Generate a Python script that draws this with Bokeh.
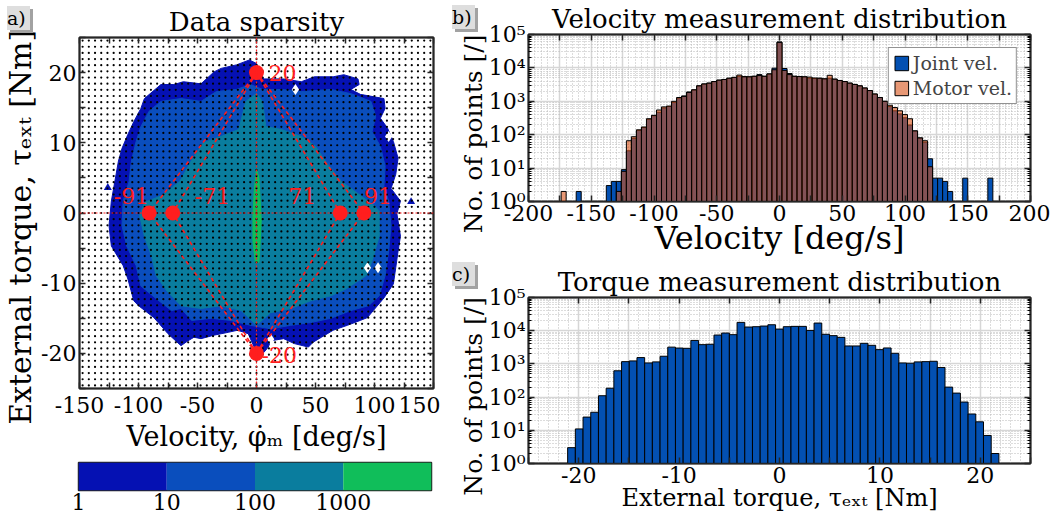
import numpy as np
from bokeh.plotting import figure
from bokeh.models import (Range1d, FixedTicker, LinearAxis, LogAxis, Span,
                          Legend, LegendItem, Div, GridBox)
from bokeh.layouts import row, column
from bokeh.embed import file_html
from bokeh.resources import INLINE
from bokeh.core.properties import value

FONT = "DejaVu Serif"
INK = "#262626"
RED = "#FF1E1E"
NB = "\u00a0"

# ---------------- data: panel a (2-D point-count contour outlines) ----------------
levels = [1, 10, 100, 1000]
level_colors = ["#0511B3", "#0A4EBD", "#0A7D9E", "#10BE5A"]

lvl1_vel = [-95, -81, -70, -62, -47, -36, -30, -17, -6, 0, 6, 23, 38, 49, 65, 74, 86, 87, 80, 88,
            108, 109, 105, 111, 116, 120, 118, 114, 122, 119, 122, 120, 118, 116, 108, 99, 94, 88, 77, 65,
            55, 48, 44, 32, 23, 12, 10, 6, 1, -2, -7, -16, -24, -36, -47, -53, -58, -64, -75, -87,
            -100, -104, -109, -113, -123, -125, -123, -119, -117, -114, -109, -104, -98]
lvl1_tau = [16.3, 18.3, 18.3, 18.7, 18.4, 20.1, 20.6, 21.1, 21.8, 21.3, 19.1, 19.1, 18.7, 19.4, 19.4,
            19.7, 19.1, 18.3, 17.6, 16.9, 16.3, 14.9, 13.5, 12.1, 10.2, 7.8, 5.5, 3.5, 1.7, -0.1,
            -3.3, -5.4, -7.8, -10.1, -12.1, -13.9, -14.9, -15.3, -16.0, -16.7, -17.7, -18.4, -19.1,
            -18.6, -17.9, -18.2, -19.1, -19.9, -19.6, -19.1, -17.2, -16.7, -17.0, -17.4, -17.9, -17.7,
            -18.2, -18.9, -17.2, -14.9, -13.2, -12.5, -9.4, -7.5, -4.7, -1.8, 1.7, 5.5, 7.4, 9.2,
            11.2, 13.0, 14.9]

lvl10_vel = [-91, -81, -64, -47, -34, -17, -5, 5, 21, 38, 63, 80, 97, 101, 98, 105, 109, 108, 112, 114,
             112, 109, 104, 95, 80, 63, 46, 29, 12, -5, -22, -38, -55, -64, -72, -85, -98, -102, -110,
             -114, -113, -108, -106, -102, -98]
lvl10_tau = [14.5, 15.9, 16.3, 15.9, 17.3, 17.6, 18.3, 17.6, 17.6, 17.3, 17.6, 17.0, 15.9, 13.8, 11.6,
             9.5, 6.7, 3.8, 1.7, -1.8, -5.4, -8.9, -11.8, -13.2, -13.9, -15.0, -15.6, -16.0, -16.5,
             -16.0, -15.3, -15.0, -15.3, -13.6, -13.9, -12.2, -10.4, -7.5, -4.7, -1.8, 1.7, 4.5, 7.4,
             10.2, 12.3]

lvl100_vel = [-99, -95, -80, -65, -55, -45, -30, -15, -9, 0, 5, 8, 21, 38, 50, 60, 72, 88, 100, 104,
              104, 98, 93, 76, 63, 46, 29, 12, 0, -13, -30, -47, -64, -76, -85, -89, -95]
lvl100_tau = [-0.4, 1.5, 2.5, 4.5, 7.5, 10.0, 10.9, 11.9, 15.9, 17.0, 15.9, 12.3, 11.9, 10.9, 9.5, 7.0,
              4.5, 2.5, 1.0, 0.3, -3.3, -6.8, -8.9, -10.8, -11.8, -12.5, -13.6, -14.2, -16.0, -13.9,
              -13.2, -13.6, -13.2, -11.1, -8.9, -6.1, -3.3]

lvl1000_vel = [0, 2, 3, 4, 3, 2, -1, -3, -3, -2]
lvl1000_tau = [6.3, 5.0, 2.0, -1.0, -4.5, -7.0, -7.0, -4.0, -0.5, 3.0]

holes_vel = [33, 112, 94, 103, 12]
holes_tau = [17.6, 10.9, -7.8, -7.8, -18.0]
islands_vel = [-126, 131]
islands_tau = [3.6, 1.6]

grid_n = 57          # histogram mesh of panel a (bins per axis)

limit_vel = [-91, -71, 71, 91]   # deg/s
limit_tau = [20, -20]            # Nm

# ---------------- data: panel b (velocity histogram) ----------------
vel_bin_first_center = -172
vel_bin_width = 4
joint_counts = [0, 0, 0, 2, 0, 0, 0, 0, 0, 3, 4, 4, 9, 33, 78, 135, 165, 290, 370, 470,
                630, 700, 930, 1250, 1450, 1900, 2200, 2900, 3300, 3500, 3900, 4300, 4500, 4900, 5200, 5600,
                5500, 5400, 5600, 6300, 5600, 6600, 9800, 60000, 9600, 6800, 5600, 5500, 5400, 4900,
                4800, 4900, 4700, 4900, 4600, 4200, 3900, 3500, 3200, 2900, 2500, 2100, 1650, 1300, 1000,
                700, 520, 420, 320, 195, 130, 80, 60, 19, 5, 5, 4, 2, 0, 0, 5, 0, 0, 0, 0, 5]
motor_counts = [2, 0, 0, 0, 0, 0, 0, 0, 0, 0, 0, 2, 8, 66, 87, 140, 170, 300, 380, 550,
                680, 720, 1000, 1300, 1400, 1850, 2200, 2900, 3300, 3500, 3900, 4300, 4500, 4900, 5200, 6100,
                5400, 5400, 5600, 5900, 5600, 6600, 8800, 58000, 8400, 6300, 5600, 5500, 5400, 5300,
                5000, 4900, 4700, 6000, 4600, 4200, 3900, 3500, 3200, 2900, 2500, 2100, 1650, 1300, 1000,
                760, 650, 520, 400, 300, 130, 80, 66, 11, 0, 0, 0, 0, 0, 0, 0, 0, 0, 0, 0, 0]

# ---------------- data: panel c (torque histogram) ----------------
tau_bin_first_edge = -21.1
tau_bin_width = 0.767
torque_counts = [3, 11, 25, 35, 110, 185, 620, 1170, 1230, 1550, 1070, 1150, 1700, 3200, 3000, 2950,
                 5100, 3800, 3900, 7400, 8500, 7600, 17800, 12900, 13200, 13800, 15100, 11200, 13200,
                 13500, 13500, 10200, 17000, 7800, 7100, 6300, 3470, 3470, 4170, 3630, 2690, 3020, 2090,
                 1070, 1050, 1150, 1170, 1200, 780, 200, 132, 71, 31, 18, 7, 2]

# tick positions
vel_map_ticks = list(range(-150, 151, 25))
tau_map_ticks = list(range(-25, 26, 5))
vel_hist_ticks = list(range(-200, 201, 25))
tau_hist_ticks = list(range(-25, 26, 5))
decades = [1, 10, 100, 1000, 10000, 100000]
decade_labels = ["10\u2070", "10\u00b9", "10\u00b2", "10\u00b3", "10\u2074", "10\u2075"]


# ---------------- helpers ----------------
def style_axis(ax, show_labels=True, label_size="28px", standoff=0, tick_standoff=3):
    ax.major_label_text_font = FONT
    ax.major_label_text_font_size = "22px" if show_labels else "0px"
    ax.major_label_text_color = "black"
    ax.major_label_standoff = tick_standoff if show_labels else 0
    ax.axis_line_color = INK
    ax.axis_line_width = 1.5
    ax.major_tick_in = 6
    ax.major_tick_out = 0
    ax.minor_tick_in = 0
    ax.minor_tick_out = 0
    ax.major_tick_line_color = INK
    ax.major_tick_line_width = 1.5
    ax.axis_label_text_font = FONT
    ax.axis_label_text_font_style = "normal"
    ax.axis_label_text_font_size = label_size
    ax.axis_label_text_color = "black"
    ax.axis_label_standoff = standoff


def every_other(ticks, step):
    return {t: (str(t) if t % step == 0 else "") for t in ticks}


def style_title(p, size="26px"):
    p.title.align = "center"
    p.title.text_font = FONT
    p.title.text_font_size = size
    p.title.text_font_style = "normal"
    p.title.text_color = "black"
    p.title.standoff = 2


def tag(text, top, left):
    html = ('<div style="font-family:\'DejaVu Serif\',serif;font-size:19px;line-height:24px;'
            'text-align:center;color:#000;">%s</div>' % text)
    return Div(text=html, width=23, height=24, margin=(top, 0, 0, left), align="start",
               styles={"background-color": "#DEDEDE", "box-shadow": "3px 3px 0 #A2A2A2",
                       "z-index": "10"})


# ---------------- panel a ----------------
pa = figure(width=440, height=458, title="Data sparsity",
            x_range=Range1d(-150, 150), y_range=Range1d(-25, 25),
            x_axis_type=None, y_axis_type=None,
            output_backend="svg", toolbar_location=None,
            min_border_left=78, min_border_right=7, min_border_top=37, min_border_bottom=70)
style_title(pa, "26px")
pa.outline_line_color = INK
pa.outline_line_width = 2

xt_a = FixedTicker(ticks=vel_map_ticks)
yt_a = FixedTicker(ticks=tau_map_ticks)
ax = LinearAxis(ticker=xt_a, major_label_overrides=every_other(vel_map_ticks, 50),
                axis_label="Velocity, \u03c6\u0307\u2098 [deg/s]")
style_axis(ax, label_size="27px", standoff=5, tick_standoff=8)
pa.add_layout(ax, "below")
ay = LinearAxis(ticker=yt_a, major_label_overrides=every_other(tau_map_ticks, 10),
                axis_label="External torque, \u03c4\u2091\u2093\u209c [Nm]" + NB * 3)
style_axis(ay, label_size="30px", standoff=0)
pa.add_layout(ay, "left")
for loc, tk in (("above", xt_a), ("right", yt_a)):
    a2 = LinearAxis(ticker=tk, major_label_overrides={t: "" for t in tk.ticks})
    style_axis(a2, show_labels=False)
    pa.add_layout(a2, loc)

for vx, vy, col in ((lvl1_vel, lvl1_tau, level_colors[0]), (lvl10_vel, lvl10_tau, level_colors[1]),
                    (lvl100_vel, lvl100_tau, level_colors[2]), (lvl1000_vel, lvl1000_tau, level_colors[3])):
    pa.patch(vx, vy, fill_color=col, line_color=col, line_width=1)
pa.scatter(holes_vel, holes_tau, marker="diamond", size=11, fill_color="white", line_color=None)
pa.scatter(islands_vel, islands_tau, marker="triangle", size=8, fill_color=level_colors[0], line_color=None)

centers_v = -150 + (np.arange(grid_n) + 0.5) * 300.0 / grid_n
centers_t = -25 + (np.arange(grid_n) + 0.5) * 50.0 / grid_n
gx, gy = np.meshgrid(centers_v, centers_t)
pa.scatter(gx.ravel(), gy.ravel(), size=2.2, color="black", line_color=None)

pa.add_layout(Span(location=0, dimension="height", line_color=RED, line_dash="2 2", line_width=1.2))
pa.add_layout(Span(location=0, dimension="width", line_color=RED, line_dash="2 2", line_width=1.2))
sx0, sy0, sx1, sy1 = [], [], [], []
for t in limit_tau:
    for v in limit_vel:
        sx0.append(0); sy0.append(t); sx1.append(v); sy1.append(0)
pa.segment(sx0, sy0, sx1, sy1, line_color=RED, line_dash="4 3", line_width=1.6)
pa.scatter(limit_vel + [0, 0], [0] * len(limit_vel) + limit_tau, size=15, color=RED, line_color=None)

outer = max(abs(v) for v in limit_vel)
left_lab = [v for v in limit_vel if (v > 0) == (abs(v) == outer)]
right_lab = [v for v in limit_vel if v not in left_lab]
pa.text(left_lab, [0] * len(left_lab), text=[str(v) for v in left_lab],
        x_offset=[0 if abs(v) == outer else 22 for v in left_lab], y_offset=-17,
        text_align="left", text_baseline="middle", text_color=RED,
        text_font=value(FONT), text_font_size="22px")
pa.text(right_lab, [0] * len(right_lab), text=[str(v) for v in right_lab],
        x_offset=[0 if abs(v) == outer else -24 for v in right_lab], y_offset=-17,
        text_align="right", text_baseline="middle", text_color=RED,
        text_font=value(FONT), text_font_size="22px")
pa.text([0, 0], limit_tau, text=[str(t) for t in limit_tau], x_offset=[12, 5], y_offset=[0, 2],
        text_align="left", text_baseline="middle", text_color=RED,
        text_font=value(FONT), text_font_size="22px")

# ---------------- colour bar ----------------
pcb = figure(width=440, height=62, x_range=Range1d(0, 4), y_range=Range1d(0, 1),
             x_axis_type=None, y_axis_type=None, output_backend="svg", toolbar_location=None,
             min_border_left=78, min_border_right=9, min_border_top=4, min_border_bottom=30)
pcb.outline_line_color = INK
pcb.outline_line_width = 1.5
lg = np.log10(levels)
pcb.quad(left=lg, right=lg + 1, bottom=0, top=1, fill_color=level_colors, line_color=None)
cax = LinearAxis(ticker=FixedTicker(ticks=lg.tolist()),
                 major_label_overrides={float(k): str(l) for k, l in zip(lg, levels)})
style_axis(cax)
cax.major_tick_in = 0
cax.axis_line_color = None
pcb.add_layout(cax, "below")

# ---------------- panels b and c ----------------
pb = figure(width=610, height=262, title="Velocity measurement distribution",
            x_range=Range1d(-200, 200), y_range=Range1d(1, 1e5), y_axis_type="log",
            output_backend="svg", toolbar_location=None,
            min_border_left=88, min_border_right=20, min_border_top=34, min_border_bottom=61)
pc = figure(width=610, height=258, title="Torque measurement distribution",
            x_range=Range1d(-25, 25), y_range=Range1d(1, 1e5), y_axis_type="log",
            output_backend="svg", toolbar_location=None,
            min_border_left=88, min_border_right=20, min_border_top=35, min_border_bottom=57)

log_minor = [m * d for d in decades[:-1] for m in range(2, 10)]
for p, xticks, lab_step, xlabel, xl_size, xl_standoff in (
        (pb, vel_hist_ticks, 50, "Velocity [deg/s]", "32px", -5),
        (pc, tau_hist_ticks, 10, "External torque, \u03c4\u2091\u2093\u209c [Nm]", "24px", -2)):
    style_title(p, "26px")
    p.outline_line_color = INK
    p.outline_line_width = 2
    xt = FixedTicker(ticks=xticks, minor_ticks=list(np.arange(xticks[0], xticks[-1] + 0.01,
                                                              (xticks[1] - xticks[0]) / 5.0)))
    yt = FixedTicker(ticks=decades, minor_ticks=log_minor)
    p.xaxis[0].ticker = xt
    p.xaxis[0].major_label_overrides = every_other(xticks, lab_step)
    p.xaxis[0].axis_label = xlabel
    style_axis(p.xaxis[0], label_size=xl_size, standoff=xl_standoff)
    p.yaxis[0].ticker = yt
    p.yaxis[0].major_label_overrides = dict(zip(decades, decade_labels))
    p.yaxis[0].axis_label = "No. of points [/]" + NB * 4
    style_axis(p.yaxis[0], label_size="25px", standoff=-2)
    p.yaxis[0].minor_tick_in = 3
    a_top = LinearAxis(ticker=xt, major_label_overrides={t: "" for t in xticks})
    style_axis(a_top, show_labels=False)
    p.add_layout(a_top, "above")
    a_r = LogAxis(ticker=yt, major_label_overrides={t: "" for t in decades})
    style_axis(a_r, show_labels=False)
    a_r.minor_tick_in = 3
    p.add_layout(a_r, "right")
    for g in (p.xgrid[0], p.ygrid[0]):
        g.grid_line_color = "#D6D6D6"
        g.grid_line_width = 1.5
        g.minor_grid_line_color = "#B8B8B8"
        g.minor_grid_line_dash = "1 2"
        g.minor_grid_line_width = 1
    p.xgrid[0].ticker = xt
    p.ygrid[0].ticker = yt

vel_centers = [vel_bin_first_center + i * vel_bin_width for i in range(len(joint_counts))]
jx = [c for c, n in zip(vel_centers, joint_counts) if n > 0]
jy = [n for n in joint_counts if n > 0]
mx = [c for c, n in zip(vel_centers, motor_counts) if n > 0]
my = [n for n in motor_counts if n > 0]
rj = pb.vbar(x=jx, width=vel_bin_width, bottom=1, top=jy, fill_color="#0350B2",
             line_color="black", line_width=1)
rm = pb.vbar(x=mx, width=vel_bin_width, bottom=1, top=my, fill_color="#D95319", fill_alpha=0.6,
             line_color="black", line_width=1)
leg = Legend(items=[LegendItem(label="Joint vel.", renderers=[rj]),
                    LegendItem(label="Motor vel.", renderers=[rm])],
             location="top_right", margin=13, padding=4, spacing=3,
             glyph_width=17, glyph_height=18, label_standoff=3,
             label_text_font=FONT, label_text_font_size="19px",
             border_line_color=INK, border_line_width=1, background_fill_alpha=1.0)
pb.add_layout(leg)

tau_centers = [tau_bin_first_edge + (i + 0.5) * tau_bin_width for i in range(len(torque_counts))]
pc.vbar(x=tau_centers, width=tau_bin_width, bottom=1, top=torque_counts, fill_color="#0350B2",
        line_color="black", line_width=1)

# ---------------- layout with panel tags ----------------
grid_a = GridBox(children=[(pa, 0, 0), (tag("a)", 6, 7), 0, 0)])
grid_b = GridBox(children=[(pb, 0, 0), (tag("b)", 5, 12), 0, 0)])
grid_c = GridBox(children=[(pc, 0, 0), (tag("c)", 0, 12), 0, 0)])
layout = row(column(grid_a, pcb), column(grid_b, grid_c))
open("out.html", "w").write(file_html(layout, INLINE))
